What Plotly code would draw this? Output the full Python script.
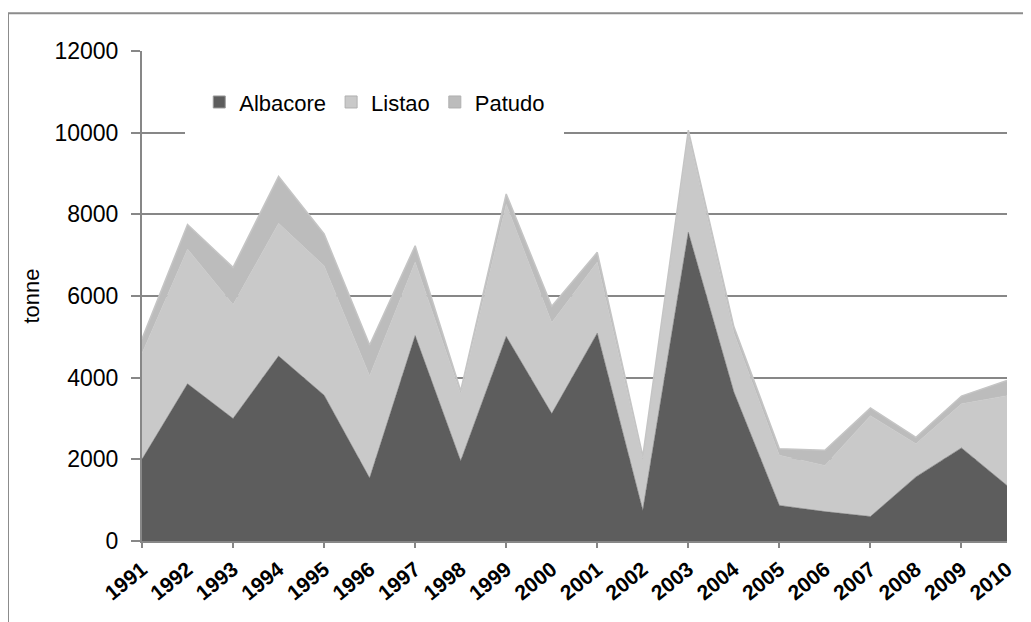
import plotly.graph_objects as go

years = list(range(1991, 2011))
year_labels = [str(y) for y in years]
albacore = [2000, 3850, 3000, 4530, 3570, 1540, 5030, 1960, 5010, 3120,
            5090, 750, 7560, 3650, 870, 720, 600, 1570, 2280, 1360]
listao = [2600, 3300, 2790, 3250, 3170, 2510, 1800, 1640, 3240, 2230,
          1740, 1250, 2390, 1450, 1230, 1130, 2470, 810, 1080, 2200]
patudo = [350, 600, 910, 1150, 780, 750, 400, 80, 250, 400,
          240, 80, 110, 150, 160, 370, 190, 160, 190, 370]
y_ticks = [0, 2000, 4000, 6000, 8000, 10000, 12000]

FONT = "Liberation Sans, Arial, sans-serif"
GRID = "#878787"

fig = go.Figure()
series = [("Albacore", albacore, "#5d5d5d", "#5d5d5d", 0.5),
          ("Listao", listao, "#c9c9c9", "#c9c9c9", 0.5),
          ("Patudo", patudo, "#bcbcbc", "#c5c5c5", 1.5)]
for name, vals, fc, lc, lw in series:
    fig.add_trace(go.Scatter(x=years, y=vals, name=name, stackgroup="one",
                             mode="lines", line=dict(color=lc, width=lw),
                             fillcolor=fc, showlegend=False))
# legend proxies (square swatches)
for name, vals, fc, lc, lw in series:
    fig.add_trace(go.Bar(x=[None], y=[None], name=name,
                         marker=dict(color=fc, line=dict(color="#b0b0b0" if name != "Albacore" else "#9a9a9a", width=1))))
# helper trace for the odd-year tick marks axis
fig.add_trace(go.Scatter(x=years, y=albacore, xaxis="x2", mode="lines",
                         line=dict(width=0), opacity=0, showlegend=False,
                         hoverinfo="skip"))

fig.update_layout(
    width=1023, height=614,
    paper_bgcolor="white", plot_bgcolor="white",
    margin=dict(l=134, r=24, t=43, b=81),
    font=dict(family=FONT, color="black"),
    showlegend=True,
    legend=dict(orientation="h", x=0.05, xanchor="left", y=0.967, yanchor="top",
                bgcolor="white", bordercolor="white", borderwidth=14,
                font=dict(size=22, family=FONT), traceorder="normal",
                itemwidth=30),
    xaxis=dict(range=[1991, 2010], tickmode="array", tickvals=years,
               ticktext=year_labels, tickangle=-39, ticks="",
               ticklabelstandoff=6, automargin=False,
               tickfont=dict(size=21, family=FONT, weight="bold"),
               showgrid=False, zeroline=False, showline=True,
               linecolor=GRID, linewidth=2),
    xaxis2=dict(range=[1991, 2010], overlaying="x", anchor="y", side="bottom",
                tickmode="linear", tick0=1991, dtick=2, ticks="outside",
                ticklen=6, tickwidth=2, tickcolor=GRID, showticklabels=False,
                showgrid=False, zeroline=False, showline=False),
    yaxis=dict(range=[0, 12000], tickmode="array", tickvals=y_ticks,
               tickformat="d", ticks="outside", ticklen=9, tickwidth=2,
               tickcolor=GRID, showgrid=True, gridcolor=GRID, gridwidth=2,
               zeroline=False, showline=True, linecolor=GRID, linewidth=2,
               ticklabelstandoff=8, automargin=False,
               tickfont=dict(size=23, family=FONT),
               title=dict(text="tonne", font=dict(size=22, family=FONT), standoff=9)),
    shapes=[dict(type="rect", xref="paper", yref="paper",
                 x0=(8 - 142) / 865, x1=1.2, y0=-0.4, y1=(540.7 - 13) / 490,
                 line=dict(color="#8c8c8c", width=2), fillcolor="rgba(0,0,0,0)",
                 layer="below")],
)

fig.write_html("out.html")
